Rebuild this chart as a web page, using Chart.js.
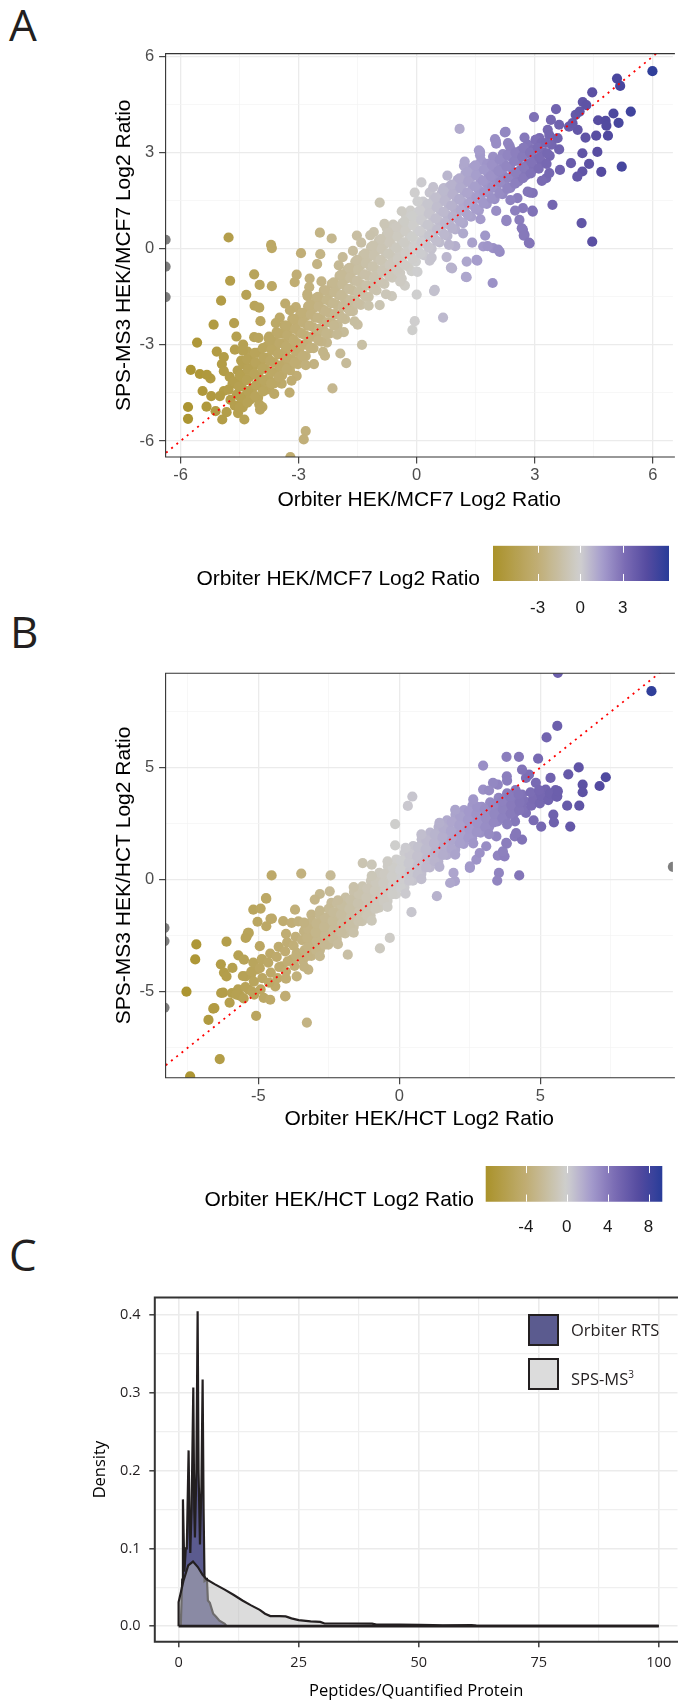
<!DOCTYPE html>
<html>
<head>
<meta charset="utf-8">
<script src="https://cdn.jsdelivr.net/npm/chart.js@4.4.0/dist/chart.umd.min.js"></script>
<style>
  body { margin: 0; background: #fff; }
  #fig { position: relative; width: 678px; height: 1702px; overflow: hidden; }
  canvas { position: absolute; left: 0; }
  .tag { position: absolute; font-family: "Open Sans", sans-serif; font-size: 44px; line-height: 44px; color: #231f20; }
  .key { position: absolute; left: 528px; width: 27px; height: 28px; border: 2px solid #231f20; }
  .keytext { position: absolute; left: 571px; font-family: "Open Sans", sans-serif; font-size: 16.5px; line-height: 20px; color: #231f20; }
</style>
</head>
<body>
<div id="fig">
  <div class="tag" style="left:9px;top:2px">A</div>
  <div class="tag" style="left:10px;top:609px">B</div>
  <div class="tag" style="left:9px;top:1232px">C</div>

  <canvas id="scatterA" width="678" height="513" style="top:0px"></canvas>
  <canvas id="barA" width="678" height="90" style="top:530px"></canvas>
  <canvas id="scatterB" width="678" height="532" style="top:600px"></canvas>
  <canvas id="barB" width="678" height="95" style="top:1140px"></canvas>
  <canvas id="densityC" width="678" height="421" style="top:1280px"></canvas>

  <div class="key" style="top:1314px;background:#5b5b8f"></div>
  <div class="keytext" style="top:1320px">Orbiter RTS</div>
  <div class="key" style="top:1358px;background:#dcdcdc"></div>
  <div class="keytext" style="top:1364px">SPS-MS<sup style="font-size:10px">3</sup></div>
</div>

<script>
// Panel A: [Orbiter HEK/MCF7, SPS-MS3 HEK/MCF7] log2 ratios
const mcf7Points = [
  [5.99,5.54],[5.09,5.31],[5.17,5.08],[4.46,4.88],[4.22,4.58],[4.31,4.48],[5.44,4.28],[5.0,4.22],[3.54,4.36],[2.98,4.11],
  [1.09,3.74],[4.61,4.01],[4.8,3.99],[4.82,3.84],[5.13,3.93],[4.56,3.53],[4.86,3.53],[4.29,3.47],[4.09,3.71],[3.87,3.81],
  [3.96,3.92],[4.04,4.18],[4.14,4.28],[3.62,3.87],[3.41,4.02],[3.33,3.71],[3.12,3.45],[3.03,3.4],[2.74,3.47],[2.24,3.63],
  [1.99,3.42],[2.32,3.3],[2.36,3.21],[4.21,2.98],[4.59,3.02],[4.38,2.65],[4.21,2.41],[4.08,2.25],[4.69,2.4],[5.21,2.56],
  [3.92,2.67],[3.64,2.46],[3.45,1.37],[4.19,0.8],[4.46,0.22],[2.95,1.16],[2.87,0.17],[2.7,0.59],[2.74,0.43],[2.11,-0.1],
  [1.94,0.02],[1.69,0.07],[1.52,-0.35],[1.93,-1.07],[1.27,-0.89],[3.29,2.2],[3.37,2.36],[2.7,1.27],[2.95,1.74],[2.61,0.9],
  [2.28,0.9],[1.27,-0.4],[0.9,-0.61],[0.46,-1.28],[0.12,2.07],[0.69,1.89],[1.61,3.03],[1.23,2.57],
  [-0.94,1.44],[0.67,-2.15],[-0.11,-2.54],[-0.05,-2.26],[1.25,-0.88],[1.54,-0.37],[-1.39,-3.0],[-1.79,-3.57],[-1.94,-3.27],
  [-1.5,-2.37],[-2.14,-4.36],[-2.33,-3.34],[-2.61,-3.6],[-2.82,-5.69],[-2.87,-5.95],[-3.21,-6.5],[-3.23,-4.49],[-3.43,-4.21],
  [-3.05,-3.97],[-4.0,-4.86],[-4.54,-5.13],[-4.94,-5.33],[-5.11,-5.07],[-5.34,-4.93],[-5.81,-4.94],[-5.81,-5.31],[-5.74,-3.78],
  [-5.51,-3.91],[-5.58,-2.93],[-5.16,-2.37],[-4.64,-2.32],[-4.58,-2.74],[-4.97,-1.62],[-4.74,-1.0],[-4.78,0.35],[-4.13,-0.8],
  [-4.33,-1.44],[-3.7,0.12],[-3.68,0.02],[-3.99,-1.13],[-3.68,-1.17],[-4.12,-1.78],[-4.0,-1.84],[-3.97,-2.26],[-3.75,-2.74],
  [-2.46,0.5],[-2.16,0.32],[-2.94,-0.14],[-2.45,-0.17],[-2.53,-0.48],[-2.72,-0.93],[-3.05,-0.81],[-3.1,-1.04],[-2.73,-1.2],
  [-2.77,-1.48],[-3.07,-1.82],[-3.48,-2.15],[-3.34,-1.71],[-1.88,-0.26],[-0.94,-1.76],[-0.63,-1.48],[-0.3,-1.15],[0,-1.43],
  [0.44,-1.32],[0.87,-0.59],[-4.0,-4.05],[-3.92,-4.27],[-4.51,-4.1],[-4.46,-3.94],[-4.95,-3.6],[-5.24,-4.05],[-5.08,-3.21],
  [-4.9,-4.44],[-4.3,-3.21],[-4.24,-3.38],[-4.02,-3.6],[-3.81,-3.43],[-3.59,-3.04],[-3.32,-3.15],[-3.15,-3.6],[-2.94,-3.38],
  [-2.28,-2.93],[-2.01,-2.37],[-1.85,-2.6],[-1.52,0.41],[-1.41,0.19],[-1.09,0.52],[-0.76,0.64],[-0.6,0.75],[-0.27,1.03],
  [-0.16,1.19],[0.16,1.47],[-0.05,1.75],[0.33,1.75],[0.67,1.86],[1.25,2.25],[1.2,2.59],[1.61,2.92],[1.94,2.87],[2.01,3.37],
  [2.26,3.65],[-1.31,-1.15],[-0.98,-1.04],[-0.69,-0.76],[-0.38,-0.93],[-0.13,-0.7],[0.33,-0.37],[0.76,-0.26],[0.98,0.08],
  [1.41,0.19],[1.74,0.41],[1.8,0.08],[2.07,-0.03],[2.28,0.86],[2.5,1.19],[2.67,0.64],[2.72,0.41],[2.85,0.19],[2.94,1.19],
  [2.56,1.58],[2.88,1.75],[-1.63,-1.82],[-2.07,-2.04],[-2.5,-2.6],[-5.44,-4.44],[-5.22,-4.6],[-5.0,-4.6],[-5.33,-3.94],
  [-4.9,-3.82],[-4.68,-4.21],[-4.73,-4.72],[-4.46,-4.83],[-4.3,-4.44],[-4.13,-4.6],[-3.92,-4.94],[-3.75,-4.38],[-3.59,-4.16],
  [-3.43,-3.82],[-4.9,-3.38],[-4.62,-3.15],[-4.46,-3.49],[-4.41,-2.99],[-4.13,-2.76],
  [-4.83,-5.1],[-4.78,-4.4],[-4.75,-4.0],[-4.62,-4.9],[-4.57,-4.55],[-4.64,-4.15],[-4.55,-3.8],
  [-4.42,-4.95],[-4.36,-4.6],[-4.45,-4.3],[-4.38,-3.95],[-4.41,-3.6],[-4.22,-4.7],[-4.17,-4.35],[-4.25,-4.0],[-4.18,-3.7],[-4.23,-3.4],
  [-4.03,-4.65],[-3.97,-4.3],[-4.02,-3.95],[-3.96,-3.6],[-4.05,-3.25],
  [-3.82,-4.4],[-3.77,-4.05],[-3.84,-3.75],[-3.78,-3.4],[-3.81,-3.05],[-3.76,-2.8],
  [-3.62,-4.2],[-3.57,-3.85],[-3.63,-3.55],[-3.58,-3.2],[-3.61,-2.9],[-3.56,-2.6],
  [-3.42,-3.95],[-3.37,-3.6],[-3.43,-3.3],[-3.38,-2.95],[-3.41,-2.65],[-3.36,-2.4],
  [-3.22,-3.8],[-3.17,-3.45],[-3.23,-3.1],[-3.18,-2.8],[-3.21,-2.5],[-3.16,-2.2],
  [-3.02,-3.6],[-2.97,-3.25],[-3.03,-2.95],[-2.98,-2.6],[-3.01,-2.3],[-2.96,-2.05],
  [-2.82,-3.35],[-2.77,-3.0],[-2.83,-2.7],[-2.78,-2.4],[-2.81,-2.1],[-2.76,-1.8],
  [-2.62,-3.1],[-2.57,-2.75],[-2.63,-2.45],[-2.58,-2.15],[-2.61,-1.85],[-2.56,-1.55],
  [-2.42,-2.9],[-2.37,-2.55],[-2.43,-2.2],[-2.38,-1.9],[-2.41,-1.6],[-2.36,-1.3],
  [-2.22,-2.65],[-2.17,-2.3],[-2.23,-2.0],[-2.18,-1.7],[-2.21,-1.4],[-2.16,-1.1],
  [-2.02,-2.4],[-1.97,-2.05],[-2.03,-1.75],[-1.98,-1.45],[-2.01,-1.15],[-1.96,-0.85],
  [-1.82,-2.2],[-1.77,-1.85],[-1.83,-1.55],[-1.78,-1.25],[-1.81,-0.95],[-1.76,-0.65],
  [-1.62,-1.95],[-1.57,-1.6],[-1.63,-1.3],[-1.58,-1.0],[-1.61,-0.7],[-1.56,-0.4],
  [-1.42,-1.75],[-1.37,-1.4],[-1.43,-1.1],[-1.38,-0.8],[-1.41,-0.5],[-1.36,-0.2],
  [-1.22,-1.5],[-1.17,-1.15],[-1.23,-0.85],[-1.18,-0.55],[-1.21,-0.25],[-1.16,0.05],
  [-1.02,-1.3],[-0.97,-0.95],[-1.03,-0.65],[-0.98,-0.35],[-1.01,-0.05],[-0.96,0.25],
  [-0.82,-1.1],[-0.77,-0.75],[-0.83,-0.45],[-0.78,-0.15],[-0.81,0.15],[-0.76,0.45],
  [-0.62,-0.9],[-0.57,-0.55],[-0.63,-0.25],[-0.58,0.05],[-0.61,0.35],[-0.56,0.65],
  [-0.42,-0.75],[-0.37,-0.4],[-0.43,-0.1],[-0.38,0.2],[-0.41,0.5],[-0.36,0.8],
  [-0.22,-0.55],[-0.17,-0.2],[-0.23,0.1],[-0.18,0.4],[-0.21,0.7],[-0.16,1.0],
  [-0.02,-0.4],[0.03,-0.05],[-0.03,0.25],[0.02,0.55],[-0.01,0.85],[0.04,1.15],
  [0.18,-0.2],[0.23,0.15],[0.17,0.45],[0.22,0.75],[0.19,1.05],[0.24,1.35],
  [0.38,0.0],[0.43,0.35],[0.37,0.65],[0.42,0.95],[0.39,1.25],[0.44,1.55],
  [0.58,0.2],[0.63,0.55],[0.57,0.85],[0.62,1.15],[0.59,1.45],[0.64,1.75],
  [0.78,0.4],[0.83,0.75],[0.77,1.05],[0.82,1.35],[0.79,1.65],[0.84,1.95],
  [0.98,0.6],[1.03,0.95],[0.97,1.25],[1.02,1.55],[0.99,1.85],[1.04,2.15],
  [1.18,0.8],[1.23,1.15],[1.17,1.45],[1.22,1.75],[1.19,2.05],[1.24,2.35],
  [1.38,1.0],[1.43,1.35],[1.37,1.65],[1.42,1.95],[1.39,2.25],[1.44,2.55],
  [1.58,1.2],[1.63,1.55],[1.57,1.85],[1.62,2.15],[1.59,2.45],[1.64,2.75],
  [1.78,1.4],[1.83,1.75],[1.77,2.05],[1.82,2.35],[1.79,2.65],
  [1.98,1.55],[2.03,1.9],[1.97,2.2],[2.02,2.5],[1.99,2.8],
  [2.18,1.7],[2.23,2.05],[2.17,2.35],[2.22,2.65],[2.19,2.95],
  [2.38,1.9],[2.43,2.25],[2.37,2.55],[2.42,2.85],[2.39,3.1],
  [2.58,2.1],[2.63,2.45],[2.57,2.75],[2.62,3.05],
  [2.78,2.3],[2.83,2.65],[2.77,2.95],[2.82,3.25],
  [2.98,2.5],[3.03,2.8],[2.97,3.1],[3.02,3.4],
  [3.18,2.7],[3.23,3.0],[3.17,3.3],[3.38,2.9],[3.43,3.25],[3.37,3.55],[3.62,3.1],[3.58,3.45],
  [-4.5,-4.95],[-4.47,-4.65],[-4.52,-4.3],[-4.49,-3.95],
  [-4.3,-4.8],[-4.28,-4.45],[-4.32,-4.1],[-4.29,-3.75],[-4.31,-3.45],
  [-4.1,-4.6],[-4.08,-4.25],[-4.12,-3.9],[-4.09,-3.55],[-4.11,-3.25],
  [-3.9,-4.45],[-3.88,-4.1],[-3.92,-3.75],[-3.89,-3.4],[-3.91,-3.1],
  [-3.7,-4.2],[-3.68,-3.85],[-3.72,-3.5],[-3.69,-3.15],[-3.71,-2.85],
  [-3.5,-4.0],[-3.48,-3.65],[-3.52,-3.3],[-3.49,-2.95],[-3.51,-2.65],
  [-3.3,-3.75],[-3.28,-3.4],[-3.32,-3.05],[-3.29,-2.7],[-3.31,-2.4],
  [-3.1,-3.55],[-3.08,-3.2],[-3.12,-2.85],[-3.09,-2.5],[-3.11,-2.2],
  [-2.9,-3.35],[-2.88,-3.0],[-2.92,-2.65],[-2.89,-2.3],[-2.91,-2.0],
  [-2.7,-3.1],[-2.68,-2.75],[-2.72,-2.4],[-2.69,-2.05],[-2.71,-1.75],
  [-2.5,-2.85],[-2.48,-2.5],[-2.52,-2.15],[-2.49,-1.8],[-2.51,-1.5],
  [-2.3,-2.65],[-2.28,-2.3],[-2.32,-1.95],[-2.29,-1.6],[-2.31,-1.3],
  [-2.1,-2.4],[-2.08,-2.05],[-2.12,-1.7],[-2.09,-1.35],[-2.11,-1.05],
  [-1.9,-2.15],[-1.88,-1.8],[-1.92,-1.45],[-1.89,-1.1],[-1.91,-0.8],
  [-1.7,-1.95],[-1.68,-1.6],[-1.72,-1.25],[-1.69,-0.9],[-1.71,-0.6],
  [-1.5,-1.7],[-1.48,-1.35],[-1.52,-1.0],[-1.49,-0.65],[-1.51,-0.35],
  [-1.3,-1.5],[-1.28,-1.15],[-1.32,-0.8],[-1.29,-0.45],[-1.31,-0.15],
  [-1.1,-1.25],[-1.08,-0.9],[-1.12,-0.55],[-1.09,-0.2],[-1.11,0.1],
  [-0.9,-1.05],[-0.88,-0.7],[-0.92,-0.35],[-0.89,0.0],[-0.91,0.3],
  [-0.7,-0.85],[-0.68,-0.5],[-0.72,-0.15],[-0.69,0.2],[-0.71,0.5],
  [-0.5,-0.67],[-0.48,-0.32],[-0.52,0.03],[-0.49,0.38],[-0.51,0.68],
  [-0.3,-0.5],[-0.28,-0.15],[-0.32,0.2],[-0.29,0.55],[-0.31,0.85],
  [-0.1,-0.32],[-0.08,0.03],[-0.12,0.38],[-0.09,0.73],[-0.11,1.03],
  [0.1,-0.15],[0.12,0.2],[0.08,0.55],[0.11,0.9],[0.09,1.2],
  [0.3,0.05],[0.32,0.4],[0.28,0.75],[0.31,1.1],[0.29,1.4],
  [0.5,0.25],[0.52,0.6],[0.48,0.95],[0.51,1.3],[0.49,1.6],
  [0.7,0.45],[0.72,0.8],[0.68,1.15],[0.71,1.5],[0.69,1.8],
  [0.9,0.65],[0.92,1.0],[0.88,1.35],[0.91,1.7],[0.89,2.0],
  [1.1,0.85],[1.12,1.2],[1.08,1.55],[1.11,1.9],[1.09,2.2],
  [1.3,1.05],[1.32,1.4],[1.28,1.75],[1.31,2.1],[1.29,2.4],
  [1.5,1.25],[1.52,1.6],[1.48,1.95],[1.51,2.3],[1.49,2.6],
  [1.7,1.42],[1.72,1.77],[1.68,2.12],[1.71,2.47],
  [1.9,1.57],[1.92,1.92],[1.88,2.27],[1.91,2.62],
  [2.1,1.73],[2.12,2.08],[2.08,2.43],[2.11,2.78],
  [2.3,1.87],[2.32,2.22],[2.28,2.57],[2.31,2.92],
  [2.5,2.03],[2.52,2.38],[2.48,2.73],[2.51,3.0],
  [2.7,2.2],[2.72,2.55],[2.68,2.87],[2.71,3.15],
  [2.9,2.35],[2.92,2.7],[2.88,3.0],[3.1,2.5],[3.12,2.85],[3.08,3.15],[3.3,2.65],[3.32,2.98],[3.28,3.3],
  [-4.42,-3.18],[-4.02,-2.78],[-3.58,-2.32],[-3.22,-1.92],[-2.78,-1.42],[-2.42,-1.02],[-1.98,-0.52],[-1.62,-0.07],
  [-1.18,0.42],[-0.82,0.78],[-0.38,1.17],[0.02,1.48],[0.42,1.92],[0.78,2.28],[1.22,2.72],[1.58,3.07],[2.02,3.28],
  [-4.38,-5.33],[-3.98,-5.02],[-3.62,-4.53],[-3.18,-4.12],[-2.82,-3.63],[-2.38,-3.22],[-2.02,-2.68],[-1.58,-2.27],
  [-1.22,-1.78],[-0.78,-1.42],[-0.42,-1.03],[0.02,-0.72],[0.38,-0.28],[0.82,0.12],[1.18,0.48],[1.62,0.92],
  [2.02,1.18],[2.38,1.52],[2.82,1.78],[3.18,2.12],
  [-6.38,0.28],[-6.38,-0.56],[-6.38,-1.51]
];

// Panel B: [Orbiter HEK/HCT, SPS-MS3 HEK/HCT] log2 ratios
const hctPoints = [
  [8.94,8.41],[5.62,9.23],[5.6,6.86],[5.22,6.35],[3.8,5.48],[4.24,5.48],[4.92,5.4],[2.97,5.09],[6.36,5.01],[5.99,4.7],
  [7.32,4.57],[7.1,4.18],[6.5,4.24],[6.5,3.9],[5.95,3.3],[6.38,3.3],[6.06,2.37],[5.03,2.37],[4.76,2.65],[5.46,2.9],
  [5.48,2.56],[5.6,3.72],[5.54,4.0],[5.36,4.54],[4.84,4.32],[5.19,4.02],[4.95,3.72],[4.49,4.54],[4.6,4.69],[4.35,4.91],
  [3.81,4.61],[3.49,4.24],[3.32,4.32],[2.97,4.02],[4.09,1.93],[4.35,1.79],[3.81,1.61],[3.49,1.07],[3.73,1.04],[3.53,0.3],
  [3.47,-0.04],[4.25,0.19],[2.73,0.89],[2.5,0.52],[1.97,-0.07],[1.8,-0.15],[1.33,-0.74],[4.08,2.98],[4.49,2.98],[4.1,2.6],
  [3.08,1.49],[3.67,1.26],[3.44,1.93],[3.79,1.64],[4.14,2.08],[2.5,0.59],[1.92,0.3],[2.85,1.19],
  [0.46,3.71],[0.3,3.29],[-0.15,2.48],[-0.15,1.53],[-1.3,0.74],[-0.98,0.67],[-2.44,0.19],[-3.48,0.27],[-4.53,0.19],
  [-4.73,-0.82],[-5.18,-1.34],[-5.03,-1.88],[-4.57,-1.75],[-3.7,-1.34],[-4.12,-1.85],[-5.37,-2.37],[-5.41,-2.52],[-6.13,-2.77],
  [-7.2,-2.89],[-7.24,-3.56],[-6.33,-3.78],[-7.55,-5.0],[-6.6,-5.76],[-6.77,-6.26],[-6.37,-8.01],[-7.42,-8.78],[-5.08,-6.08],
  [-3.28,-6.38],[-4.04,-5.19],[-0.69,-3.07],[-0.34,-2.6],[0.43,-1.45],[-6.22,-4.15],[-6.25,-5.04],[-6.02,-5.49],[-5.64,-5.19],
  [-5.72,-4.9],[-5.26,-4.23],[-5.03,-3.99],[-4.95,-2.97],[-4.72,-0.85],[-4.92,-1.29],[-4.52,-1.74],[-4.72,-2.08],[-5.34,-2.38],
  [-5.45,-2.6],[-5.71,-3.38],[-5.51,-3.57],[-5.92,-3.94],[-6.13,-4.32],[-6.32,-5.06],[-5.94,-5.06],[-5.78,-5.13],[-6.56,-5.73],
  [-5.15,-5.13],[-4.81,-5.28],[-5.34,-4.91],[-5.45,-4.32],[-5.1,-4.02],[-4.87,-3.57],[-4.4,-4.76],[-4.58,-5.36],[-4.05,-5.21],
  [-4.17,-3.87],[-3.82,-3.57],[-3.64,-3.27],[-3.64,-4.32],[-3.23,-4.02],[-3.35,-3.42],[-1.83,-3.35],[-3.82,-1.93],[-3.58,-1.86],
  [-2.82,-0.64],[-3.0,-0.89],[-3.12,-1.56],[-2.47,-0.52],[-2.41,-1.04],
  [-5.52,-5.3],[-5.46,-4.8],[-5.55,-4.3],[-5.22,-5.0],[-5.16,-4.55],[-5.25,-4.1],[-5.18,-3.7],
  [-4.92,-4.9],[-4.86,-4.4],[-4.95,-3.95],[-4.88,-3.55],[-4.62,-4.6],[-4.56,-4.15],[-4.65,-3.7],[-4.58,-3.3],
  [-4.32,-4.4],[-4.26,-3.9],[-4.35,-3.45],[-4.28,-3.0],[-4.02,-4.1],[-3.96,-3.65],[-4.05,-3.2],[-3.98,-2.8],
  [-3.72,-3.85],[-3.66,-3.4],[-3.75,-2.95],[-3.68,-2.55],[-3.42,-3.6],[-3.36,-3.15],[-3.45,-2.7],[-3.38,-2.3],
  [-3.12,-3.4],[-3.06,-3.0],[-3.15,-2.6],[-3.08,-2.2],[-3.11,-1.85],
  [-2.82,-3.15],[-2.76,-2.75],[-2.85,-2.35],[-2.78,-1.95],[-2.81,-1.6],
  [-2.52,-2.9],[-2.46,-2.5],[-2.55,-2.1],[-2.48,-1.7],[-2.51,-1.3],
  [-2.22,-2.65],[-2.16,-2.25],[-2.25,-1.85],[-2.18,-1.45],[-2.21,-1.05],
  [-1.92,-2.4],[-1.86,-2.0],[-1.95,-1.6],[-1.88,-1.2],[-1.91,-0.8],
  [-1.62,-2.1],[-1.56,-1.7],[-1.65,-1.3],[-1.58,-0.9],[-1.61,-0.55],
  [-1.32,-1.85],[-1.26,-1.45],[-1.35,-1.05],[-1.28,-0.65],[-1.31,-0.3],
  [-1.02,-1.6],[-0.96,-1.2],[-1.05,-0.8],[-0.98,-0.4],[-1.01,-0.05],
  [-0.72,-1.25],[-0.66,-0.85],[-0.75,-0.45],[-0.68,-0.05],[-0.71,0.3],
  [-0.42,-0.95],[-0.36,-0.55],[-0.45,-0.15],[-0.38,0.25],[-0.41,0.6],
  [-0.12,-0.65],[-0.06,-0.25],[-0.15,0.15],[-0.08,0.55],[-0.11,0.9],
  [0.18,-0.35],[0.24,0.05],[0.15,0.45],[0.22,0.85],[0.19,1.2],
  [0.48,-0.05],[0.54,0.35],[0.45,0.75],[0.52,1.15],[0.49,1.5],
  [0.78,0.25],[0.84,0.65],[0.75,1.05],[0.82,1.45],[0.79,1.8],
  [1.08,0.55],[1.14,0.95],[1.05,1.35],[1.12,1.75],[1.09,2.1],
  [1.38,0.8],[1.44,1.2],[1.35,1.6],[1.42,2.0],[1.39,2.35],
  [1.68,1.1],[1.74,1.5],[1.65,1.9],[1.72,2.3],[1.69,2.65],
  [1.98,1.35],[2.04,1.75],[1.95,2.15],[2.02,2.55],[1.99,2.9],
  [2.28,1.6],[2.34,2.0],[2.25,2.4],[2.32,2.8],[2.29,3.1],
  [2.58,1.85],[2.64,2.25],[2.55,2.65],[2.62,3.0],[2.59,3.3],
  [2.88,2.1],[2.94,2.5],[2.85,2.9],[2.92,3.25],[3.18,2.35],[3.24,2.75],[3.15,3.1],[3.22,3.45],
  [3.48,2.6],[3.54,2.95],[3.45,3.3],[3.52,3.65],[3.78,2.8],[3.84,3.15],[3.75,3.5],[3.82,3.85],
  [4.08,3.0],[4.14,3.35],[4.05,3.7],[4.12,4.0],[4.38,3.15],[4.44,3.5],[4.35,3.8],
  [4.68,3.3],[4.74,3.6],[4.65,3.9],[4.98,3.4],[5.04,3.75],[4.95,4.0],[5.28,3.55],[5.34,3.85],[5.58,3.7],[5.62,3.95],
  [-3.25,-3.4],[-3.23,-3.0],[-3.27,-2.6],[-3.24,-2.2],[-2.95,-3.15],[-2.93,-2.75],[-2.97,-2.35],[-2.94,-1.95],
  [-2.65,-2.9],[-2.63,-2.5],[-2.67,-2.1],[-2.64,-1.7],[-2.35,-2.65],[-2.33,-2.25],[-2.37,-1.85],[-2.34,-1.45],
  [-2.05,-2.35],[-2.03,-1.95],[-2.07,-1.55],[-2.04,-1.15],[-1.75,-2.1],[-1.73,-1.7],[-1.77,-1.3],[-1.74,-0.9],
  [-1.45,-1.85],[-1.43,-1.45],[-1.47,-1.05],[-1.44,-0.65],[-1.15,-1.6],[-1.13,-1.2],[-1.17,-0.8],[-1.14,-0.4],
  [-0.85,-1.3],[-0.83,-0.9],[-0.87,-0.5],[-0.84,-0.1],[-0.55,-0.95],[-0.53,-0.55],[-0.57,-0.15],[-0.54,0.25],
  [-0.25,-0.65],[-0.23,-0.25],[-0.27,0.15],[-0.24,0.55],[0.05,-0.35],[0.07,0.05],[0.03,0.45],[0.06,0.85],
  [0.35,-0.05],[0.37,0.35],[0.33,0.75],[0.36,1.15],[0.65,0.25],[0.67,0.65],[0.63,1.05],[0.66,1.45],
  [0.95,0.55],[0.97,0.95],[0.93,1.35],[0.96,1.75],[1.25,0.83],[1.27,1.23],[1.23,1.63],[1.26,2.03],
  [1.55,1.1],[1.57,1.5],[1.53,1.9],[1.56,2.3],[1.85,1.38],[1.87,1.78],[1.83,2.18],[1.86,2.58],
  [2.15,1.63],[2.17,2.03],[2.13,2.43],[2.16,2.83],[2.45,1.88],[2.47,2.28],[2.43,2.68],[2.46,3.05],
  [2.75,2.13],[2.77,2.53],[2.73,2.93],[2.76,3.25],[3.05,2.35],[3.07,2.75],[3.03,3.15],
  [3.35,2.55],[3.37,2.95],[3.33,3.35],[3.65,2.75],[3.67,3.15],[3.63,3.5],
  [3.95,2.95],[3.97,3.33],[3.93,3.7],[4.25,3.1],[4.27,3.45],[4.23,3.8],
  [-4.02,-2.42],[-3.38,-1.92],[-2.82,-1.38],[-2.18,-0.92],[-1.62,-0.33],[-0.98,0.17],[-0.42,0.82],[0.22,1.42],
  [0.78,2.02],[1.42,2.53],[1.98,3.12],[2.62,3.58],[3.18,3.98],[3.82,4.42],
  [-4.02,-4.42],[-3.38,-3.88],[-2.82,-3.42],[-2.18,-2.88],[-1.62,-2.37],[-0.98,-1.83],[-0.42,-1.22],[0.22,-0.62],
  [0.78,0.02],[1.42,0.57],[1.98,1.12],[2.62,1.62],[3.18,2.03],[3.82,2.47],
  [-8.33,-2.15],[-8.33,-2.74],[-8.33,-5.71],[9.7,0.57]
];

// colour bar limits and labels
const mcf7Range = [-6.15, 6.26];
const hctRange = [-7.94, 9.35];
const mcf7BarTicks = [-3, 0, 3];
const hctBarTicks = [-4, 0, 4, 8];

// axis limits, labelled ticks and minor grid
const mcf7XLim = [-6.38, 6.51], mcf7YLim = [-6.5, 6.09];
const mcf7Major = [-6, -3, 0, 3, 6], mcf7Minor = [-4.5, -1.5, 1.5, 4.5];
const hctXLim = [-8.29, 9.7], hctYLim = [-8.84, 9.21];
const hctMajor = [-5, 0, 5], hctMinor = [-7.5, -2.5, 2.5, 7.5];

// Panel C densities
const rtsX = [0.45,0.75,0.9,1.2,1.5,1.7,2.08,2.3,2.43,2.7,3.06,3.25,3.4,3.7,3.96,4.15,4.45,4.75,5.0,5.2,5.4,5.9,6.1,6.5,7.2,7.8,8.5,9.6,10];
const rtsDensity = [0,0.06,0.163,0.07,0.1,0.1,0.226,0.12,0.094,0.15,0.307,0.15,0.114,0.2,0.405,0.2,0.105,0.18,0.317,0.15,0.058,0.06,0.033,0.03,0.016,0.012,0.007,0.003,0];
const spsX = [0,0,1,2,3,4,5,5.85,7.5,9.6,11.5,13.3,15,16.9,18,19.1,21,22.3,23.5,25,27.5,29.5,30.4,35,40.3,41.2,46,50.2,53,55,61,62,70,80,90,100];
const spsDensity = [0,0.031,0.058,0.078,0.083,0.076,0.066,0.06,0.054,0.047,0.04,0.033,0.027,0.021,0.016,0.013,0.0128,0.0125,0.01,0.0077,0.0062,0.0055,0.0034,0.0034,0.0032,0.002,0.002,0.0018,0.0015,0.001,0.0012,0.0006,0.0005,0.0004,0.0003,0.0003];
const densXMajor = [0, 25, 50, 75, 100], densXMinor = [12.5, 37.5, 62.5, 87.5];
const densYMajor = [0, 0.1, 0.2, 0.3, 0.4], densYMinor = [0.05, 0.15, 0.25, 0.35];

// gold -> grey -> purple -> navy
const palette = [[-1,[170,146,42]],[-0.5,[192,173,115]],[0,[207,207,207]],[0.25,[165,156,204]],[0.5,[123,108,180]],[0.75,[85,75,160]],[1,[40,60,153]]];

function ratioColour(v, range) {
  if (v < range[0] || v > range[1]) return '#7f7f7f';
  const t = v < 0 ? v / -range[0] : v / range[1];
  for (let i = 1; i < palette.length; i++) {
    if (t <= palette[i][0]) {
      const [t0, c0] = palette[i - 1], [t1, c1] = palette[i];
      const f = (t - t0) / (t1 - t0);
      const c = c0.map((a, k) => Math.round(a + (c1[k] - a) * f));
      return `rgb(${c[0]},${c[1]},${c[2]})`;
    }
  }
  return 'rgb(40,60,153)';
}

const sans = '"Liberation Sans", Arial, sans-serif';
const myriad = '"Open Sans", sans-serif';

// panel outline (top, left, bottom; right edge is cut off)
const frame = {
  id: 'frame',
  afterDatasetsDraw(chart, args, opts) {
    const { ctx, chartArea: a } = chart;
    ctx.save();
    ctx.strokeStyle = opts.color;
    ctx.lineWidth = opts.width;
    ctx.beginPath();
    ctx.moveTo(a.right + 2, a.top);
    ctx.lineTo(a.left, a.top);
    ctx.lineTo(a.left, a.bottom);
    ctx.lineTo(a.right + 2, a.bottom);
    ctx.stroke();
    ctx.restore();
  }
};

function axis(lim, major, minor, o) {
  const isMajor = c => c.tick && major.some(m => Math.abs(m - c.tick.value) < 1e-9);
  return {
    type: 'linear', min: lim[0], max: lim[1],
    afterBuildTicks: s => { s.ticks = major.concat(minor).sort((a, b) => a - b).map(v => ({ value: v })); },
    afterFit: o.fit,
    grid: {
      color: c => isMajor(c) ? o.major[0] : o.minor[0],
      lineWidth: c => isMajor(c) ? o.major[1] : o.minor[1],
      tickColor: c => isMajor(c) ? o.tickColor : 'rgba(0,0,0,0)',
      tickLength: o.tickLength,
      tickWidth: o.tickWidth
    },
    border: { display: false },
    ticks: {
      autoSkip: false, maxRotation: 0, padding: o.pad, color: o.tickText, font: o.tickFont,
      callback: v => major.some(m => Math.abs(m - v) < 1e-9) ? o.fmt(v) : ''
    },
    title: { display: true, text: o.title, color: '#000', font: o.titleFont, padding: 0 }
  };
}

function makeScatter(id, points, range, xLim, yLim, major, minor, xTitle, yTitle, geo) {
  const base = {
    major: ['#ebebeb', 1.3], minor: ['#f4f4f4', 0.7], tickColor: '#333', tickLength: 6.5, tickWidth: 1.1,
    tickText: '#4d4d4d', tickFont: { family: sans, size: 16.5 }, titleFont: { family: sans, size: 21 }, fmt: v => String(v)
  };
  const lo = Math.min(xLim[0], yLim[0]), hi = Math.max(xLim[1], yLim[1]);
  new Chart(document.getElementById(id), {
    type: 'scatter',
    data: {
      datasets: [
        {
          data: [{ x: lo, y: lo }, { x: hi, y: hi }], showLine: true, borderColor: '#ff0000', borderWidth: 1.8,
          borderDash: [2, 4.7], pointRadius: 0, clip: 0, order: 0
        },
        {
          data: points.map(p => ({ x: p[0], y: p[1] })),
          pointRadius: 5.1, pointBorderWidth: 0, pointHoverRadius: 5.1,
          pointBackgroundColor: points.map(p => ratioColour(p[0], range)), clip: 0, order: 1
        }
      ]
    },
    plugins: [frame],
    options: {
      responsive: false, animation: false,
      layout: { padding: { left: geo.left, top: geo.top, right: 0, bottom: 0 } },
      plugins: { legend: { display: false }, tooltip: { enabled: false }, frame: { color: '#333', width: 1.1 } },
      scales: {
        x: axis(xLim, major, minor, Object.assign({}, base, { pad: 2.3, title: xTitle, fit: s => { s.height = geo.xh; } })),
        y: axis(yLim, major, minor, Object.assign({}, base, { pad: 5, title: yTitle, fit: s => { s.width = geo.yw; } }))
      }
    }
  });
}

// colour bar legend: title text and white ticks on the bar
const barKey = {
  id: 'barKey',
  afterDatasetsDraw(chart, args, opts) {
    const { ctx, chartArea: a, scales } = chart;
    ctx.save();
    ctx.strokeStyle = '#ffffff';
    ctx.lineWidth = 1;
    const h = (a.bottom - a.top) / 5;
    scales.x.ticks.forEach(t => {
      const x = Math.round(scales.x.getPixelForValue(t.value)) + 0.5;
      ctx.beginPath();
      ctx.moveTo(x, a.top); ctx.lineTo(x, a.top + h);
      ctx.moveTo(x, a.bottom - h); ctx.lineTo(x, a.bottom);
      ctx.stroke();
    });
    ctx.fillStyle = '#000';
    ctx.font = `21px ${sans}`;
    ctx.textAlign = 'right';
    ctx.textBaseline = 'middle';
    ctx.fillText(opts.title, opts.x, opts.y);
    ctx.restore();
  }
};

function makeBar(id, range, ticks, title, geo) {
  new Chart(document.getElementById(id), {
    type: 'bar',
    data: {
      labels: [''],
      datasets: [{
        data: [range], borderWidth: 0, barPercentage: 1, categoryPercentage: 1,
        backgroundColor: c => {
          const a = c.chart.chartArea;
          if (!a) return '#cfcfcf';
          const g = c.chart.ctx.createLinearGradient(a.left, 0, a.right, 0);
          for (let i = 0; i <= 40; i++) {
            g.addColorStop(i / 40, ratioColour(range[0] + (range[1] - range[0]) * i / 40, range));
          }
          return g;
        }
      }]
    },
    plugins: [barKey],
    options: {
      indexAxis: 'y', responsive: false, animation: false,
      layout: { padding: { left: geo.left, right: geo.right, top: geo.top, bottom: 0 } },
      plugins: { legend: { display: false }, tooltip: { enabled: false }, barKey: { title, x: geo.tx, y: geo.ty } },
      scales: {
        x: {
          type: 'linear', min: range[0], max: range[1],
          afterBuildTicks: s => { s.ticks = ticks.map(v => ({ value: v })); },
          afterFit: s => { s.height = geo.xh; },
          grid: { display: false }, border: { display: false },
          ticks: { autoSkip: false, maxRotation: 0, padding: geo.pad, color: '#1a1a1a', font: { family: sans, size: 17 }, callback: v => String(v) }
        },
        y: { display: false }
      }
    }
  });
}

makeScatter('scatterA', mcf7Points, mcf7Range, mcf7XLim, mcf7YLim, mcf7Major, mcf7Minor,
  'Orbiter HEK/MCF7 Log2 Ratio', 'SPS-MS3 HEK/MCF7 Log2 Ratio', { left: 112, top: 53.6, yw: 53.6, xh: 56 });
makeBar('barA', mcf7Range, mcf7BarTicks, 'Orbiter HEK/MCF7 Log2 Ratio',
  { left: 493, right: 9, top: 15.7, xh: 39, pad: 8.8, tx: 480, ty: 49 });
makeScatter('scatterB', hctPoints, hctRange, hctXLim, hctYLim, hctMajor, hctMinor,
  'Orbiter HEK/HCT Log2 Ratio', 'SPS-MS3 HEK/HCT Log2 Ratio', { left: 112, top: 73.3, yw: 53.6, xh: 54.3 });
makeBar('barB', hctRange, hctBarTicks, 'Orbiter HEK/HCT Log2 Ratio',
  { left: 485.6, right: 15.6, top: 26, xh: 33.3, pad: 7.1, tx: 474, ty: 60 });

// Panel C: density of peptides per quantified protein
const cBase = {
  major: ['#ebebeb', 1.6], minor: ['#efefef', 1.2], tickColor: '#333', tickLength: 5.5, tickWidth: 1.4,
  tickText: '#231f20', tickFont: { family: myriad, size: 14.5 }, titleFont: { family: myriad, size: 16.5 }
};
new Chart(document.getElementById('densityC'), {
  type: 'line',
  data: {
    datasets: [
      {
        label: 'SPS-MS3', data: spsX.map((x, i) => ({ x, y: spsDensity[i] })), fill: 'origin',
        backgroundColor: 'rgba(185,185,185,0.5)', borderColor: '#231f20', borderWidth: 2.2, pointRadius: 0, order: 1
      },
      {
        label: 'Orbiter RTS', data: rtsX.map((x, i) => ({ x, y: rtsDensity[i] })), fill: 'origin',
        backgroundColor: '#5b5b8f', borderColor: '#231f20', borderWidth: 2.2, pointRadius: 0, order: 2
      },
      {
        data: [{ x: spsX[0], y: 0 }, { x: spsX[spsX.length - 1], y: 0 }], fill: false,
        borderColor: '#231f20', borderWidth: 2.6, pointRadius: 0, order: 0
      }
    ]
  },
  plugins: [frame],
  options: {
    responsive: false, animation: false,
    layout: { padding: { left: 90, top: 15, right: 0, bottom: 0 } },
    plugins: { legend: { display: false }, tooltip: { enabled: false }, frame: { color: '#333', width: 2 } },
    scales: {
      x: axis([-4.96, 103.9], densXMajor, densXMinor, Object.assign({}, cBase, {
        pad: 6.8, title: 'Peptides/Quantified Protein', fmt: v => String(v), fit: s => { s.height = 59.3; }
      })),
      y: axis([-0.02, 0.4226], densYMajor, densYMinor, Object.assign({}, cBase, {
        pad: 8.8, title: 'Density', fmt: v => v.toFixed(1), fit: s => { s.width = 64.8; }
      }))
    }
  }
});
</script>
</body>
</html>
